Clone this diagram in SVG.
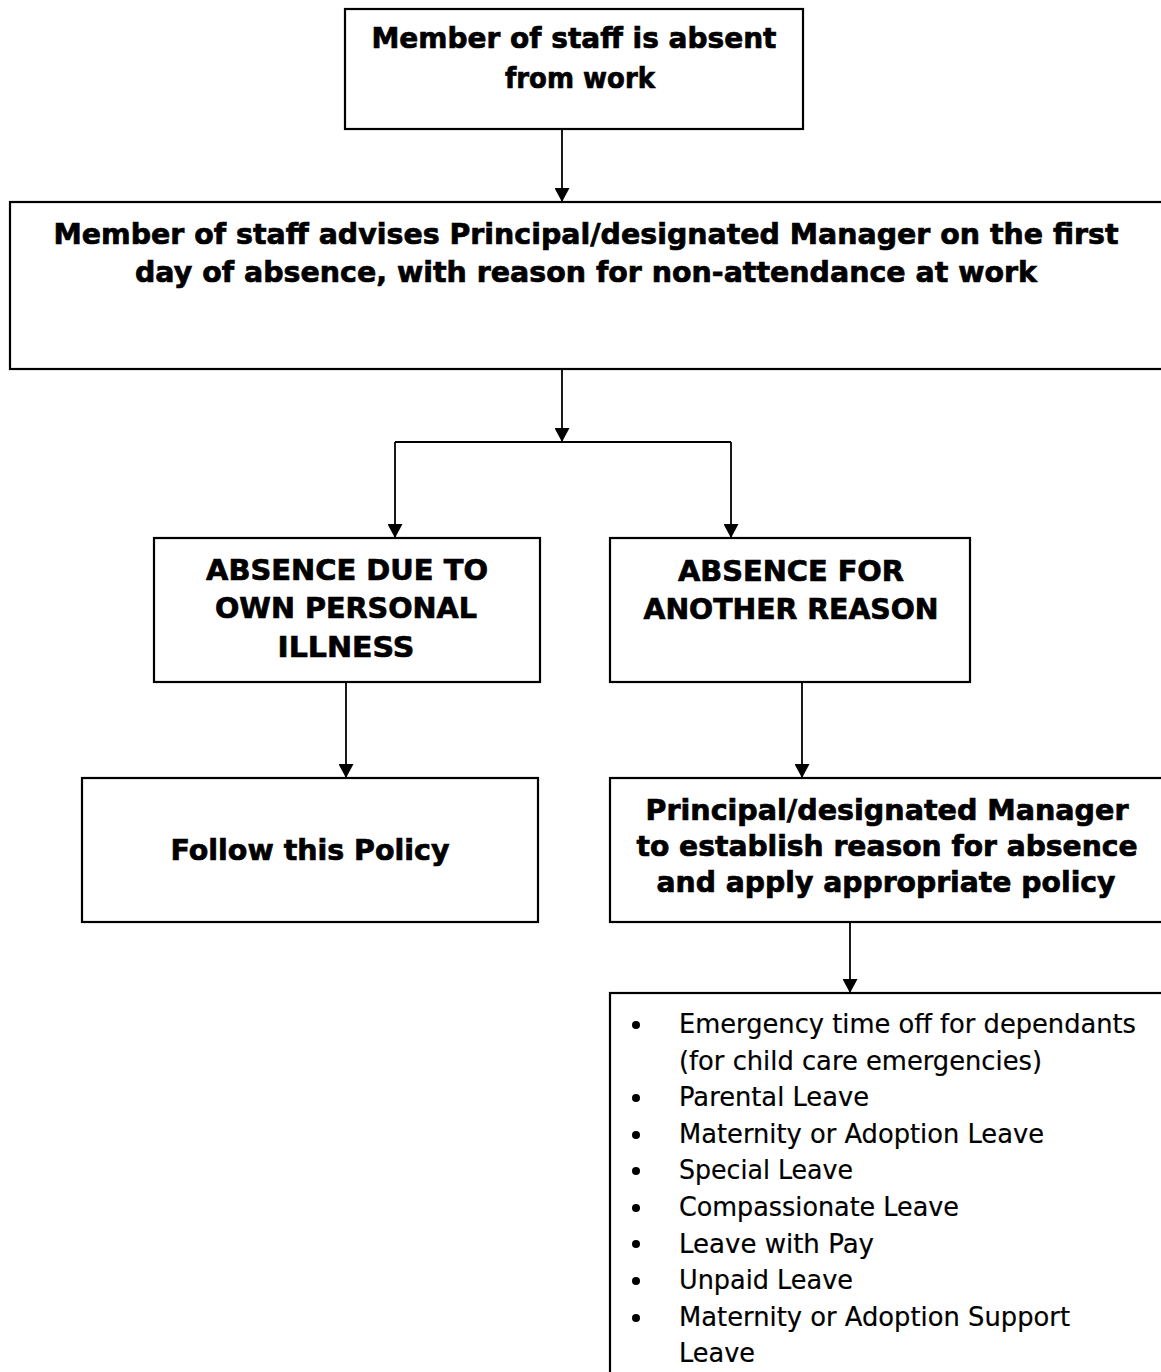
<svg xmlns="http://www.w3.org/2000/svg" width="1161" height="1372" viewBox="0 0 1161 1372">
<style>
  .box { fill: #ffffff; stroke: #000000; stroke-width: 2.2; }
  .conn { fill: none; stroke: #000000; stroke-width: 1.8; }
  .b { font-family: "DejaVu Sans", "Liberation Sans", sans-serif; font-weight: bold; font-size: 28.5px; fill: #000; stroke: #000; stroke-width: 0.7; text-anchor: middle; }
  .r { font-family: "DejaVu Sans", "Liberation Sans", sans-serif; font-size: 26px; fill: #000; stroke: #000; stroke-width: 0.2; }
</style>
<defs>
  <marker id="arr" viewBox="0 0 14 15" refX="14" refY="7.5" markerWidth="14" markerHeight="15" markerUnits="userSpaceOnUse" orient="auto">
    <path d="M0,0 L14,7.5 L0,15 Z" fill="#000"/>
  </marker>
</defs>
<rect width="1161" height="1372" fill="#ffffff"/>

<g id="connectors">
  <line class="conn" x1="562" y1="129" x2="562" y2="202" marker-end="url(#arr)"/>
  <line class="conn" x1="562" y1="369" x2="562" y2="442" marker-end="url(#arr)"/>
  <line class="conn" x1="395" y1="442" x2="731" y2="442"/>
  <line class="conn" x1="395" y1="442" x2="395" y2="538" marker-end="url(#arr)"/>
  <line class="conn" x1="731" y1="442" x2="731" y2="538" marker-end="url(#arr)"/>
  <line class="conn" x1="346" y1="682" x2="346" y2="778" marker-end="url(#arr)"/>
  <line class="conn" x1="802" y1="682" x2="802" y2="778" marker-end="url(#arr)"/>
  <line class="conn" x1="850" y1="922" x2="850" y2="993" marker-end="url(#arr)"/>
</g>

<g id="node-absent">
  <rect class="box" x="345" y="9" width="458" height="120"/>
  <text class="b" x="574" y="48" textLength="405" lengthAdjust="spacingAndGlyphs">Member of staff is absent</text>
  <text class="b" x="580" y="88" textLength="150" lengthAdjust="spacingAndGlyphs">from work</text>
</g>

<g id="node-advises">
  <rect class="box" x="10" y="202" width="1153" height="167"/>
  <text class="b" x="586" y="244" textLength="1065" lengthAdjust="spacingAndGlyphs">Member of staff advises Principal/designated Manager on the first</text>
  <text class="b" x="586" y="282" textLength="902" lengthAdjust="spacingAndGlyphs">day of absence, with reason for non-attendance at work</text>
</g>

<g id="node-illness">
  <rect class="box" x="154" y="538" width="386" height="144"/>
  <text class="b" x="347" y="580" textLength="282" lengthAdjust="spacingAndGlyphs">ABSENCE DUE TO</text>
  <text class="b" x="346" y="618" textLength="262" lengthAdjust="spacingAndGlyphs">OWN PERSONAL</text>
  <text class="b" x="346" y="657" textLength="137" lengthAdjust="spacingAndGlyphs">ILLNESS</text>
</g>

<g id="node-another">
  <rect class="box" x="610" y="538" width="360" height="144"/>
  <text class="b" x="791" y="581" textLength="226" lengthAdjust="spacingAndGlyphs">ABSENCE FOR</text>
  <text class="b" x="791" y="619" textLength="295" lengthAdjust="spacingAndGlyphs">ANOTHER REASON</text>
</g>

<g id="node-follow">
  <rect class="box" x="82" y="778" width="456" height="144"/>
  <text class="b" x="310" y="860" textLength="279" lengthAdjust="spacingAndGlyphs">Follow this Policy</text>
</g>

<g id="node-establish">
  <rect class="box" x="610" y="778" width="555" height="144"/>
  <text class="b" x="887" y="820" textLength="483" lengthAdjust="spacingAndGlyphs">Principal/designated Manager</text>
  <text class="b" x="887" y="856" textLength="501" lengthAdjust="spacingAndGlyphs">to establish reason for absence</text>
  <text class="b" x="886" y="892" textLength="459" lengthAdjust="spacingAndGlyphs">and apply appropriate policy</text>
</g>

<g id="node-list">
  <rect class="box" x="610" y="993" width="560" height="400"/>
  <g fill="#000">
    <circle cx="636" cy="1025" r="4"/>
    <circle cx="636" cy="1098" r="4"/>
    <circle cx="636" cy="1135" r="4"/>
    <circle cx="636" cy="1171" r="4"/>
    <circle cx="636" cy="1208" r="4"/>
    <circle cx="636" cy="1244" r="4"/>
    <circle cx="636" cy="1281" r="4"/>
    <circle cx="636" cy="1318" r="4"/>
  </g>
  <text class="r" x="679" y="1033" textLength="457" lengthAdjust="spacingAndGlyphs">Emergency time off for dependants</text>
  <text class="r" x="679" y="1069.6" textLength="363" lengthAdjust="spacingAndGlyphs">(for child care emergencies)</text>
  <text class="r" x="679" y="1106.2" textLength="190" lengthAdjust="spacingAndGlyphs">Parental Leave</text>
  <text class="r" x="679" y="1142.8" textLength="365" lengthAdjust="spacingAndGlyphs">Maternity or Adoption Leave</text>
  <text class="r" x="679" y="1179.4" textLength="174" lengthAdjust="spacingAndGlyphs">Special Leave</text>
  <text class="r" x="679" y="1216" textLength="280" lengthAdjust="spacingAndGlyphs">Compassionate Leave</text>
  <text class="r" x="679" y="1252.6" textLength="195" lengthAdjust="spacingAndGlyphs">Leave with Pay</text>
  <text class="r" x="679" y="1289.2" textLength="174" lengthAdjust="spacingAndGlyphs">Unpaid Leave</text>
  <text class="r" x="679" y="1325.8" textLength="391" lengthAdjust="spacingAndGlyphs">Maternity or Adoption Support</text>
  <text class="r" x="679" y="1362.4" textLength="76" lengthAdjust="spacingAndGlyphs">Leave</text>
</g>
</svg>
